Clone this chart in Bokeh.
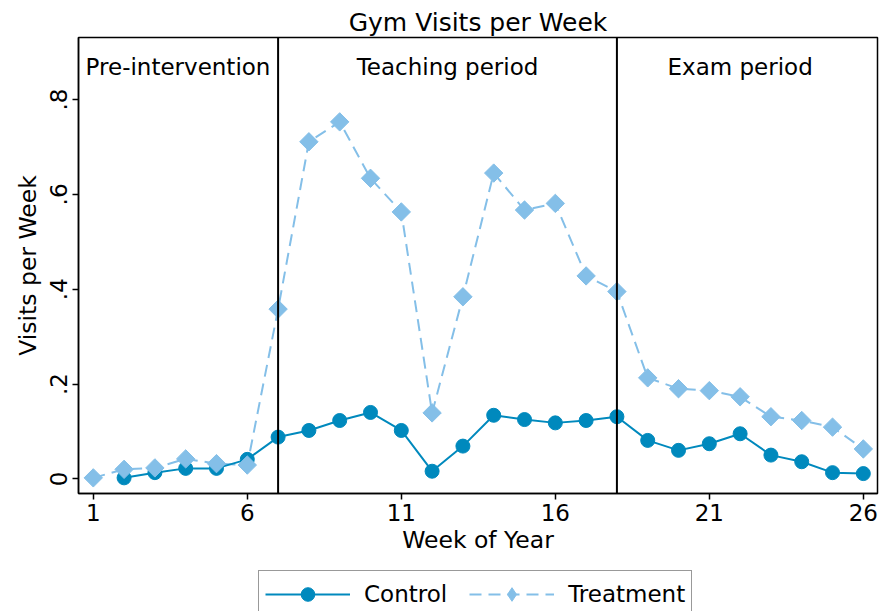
import math
from bokeh.plotting import figure
from bokeh.layouts import column
from bokeh.models import Range1d, FixedTicker, Span, Legend, LegendItem, ColumnDataSource
from bokeh.core.properties import value
from bokeh.embed import file_html
from bokeh.resources import INLINE

# ---- data ----
weeks = list(range(1, 27))
treatment = [0.002, 0.020, 0.023, 0.042, 0.032, 0.029, 0.358, 0.711, 0.753, 0.634,
             0.563, 0.139, 0.384, 0.645, 0.567, 0.581, 0.428, 0.395, 0.213, 0.190,
             0.186, 0.173, 0.131, 0.123, 0.109, 0.063]
control_weeks = list(range(2, 27))
control = [0.002, 0.013, 0.022, 0.022, 0.041, 0.088, 0.102, 0.123, 0.140, 0.102,
           0.016, 0.069, 0.134, 0.125, 0.118, 0.123, 0.131, 0.081, 0.060, 0.074,
           0.095, 0.050, 0.036, 0.013, 0.011]
phase_breaks = [7, 18]
phase_labels = ["Pre-intervention", "Teaching period", "Exam period"]
phase_centers = [3.75, 12.5, 22.0]
phase_label_y = 0.868
x_ticks = [1, 6, 11, 16, 21, 26]
y_ticks = [0, 0.2, 0.4, 0.6, 0.8]
y_tick_labels = ["0", ".2", ".4", ".6", ".8"]
series_names = ["Control", "Treatment"]

FONT = "DejaVu Sans"
C_CTRL = "#0089bd"
C_TREAT = "#84bfe8"
DASH = "12 7"

p = figure(width=880, height=556, output_backend="svg", toolbar_location=None,
           x_range=Range1d(0.52, 26.46), y_range=Range1d(-0.031, 0.931),
           min_border_left=78, min_border_right=3, min_border_bottom=10, min_border_top=37)

p.title.text = "Gym Visits per Week"
p.title.align = "center"
p.title.text_font = FONT
p.title.text_font_size = "25px"
p.title.text_font_style = "normal"
p.title.text_color = "black"
p.title.standoff = 2

p.outline_line_color = "black"
p.outline_line_width = 1.5
p.xgrid.visible = False
p.ygrid.visible = False

for ax in (p.xaxis[0], p.yaxis[0]):
    ax.axis_line_color = "black"
    ax.axis_line_width = 1.5
    ax.major_tick_line_color = "black"
    ax.major_tick_line_width = 1.5
    ax.major_tick_out = 6
    ax.major_tick_in = 0
    ax.minor_tick_line_color = None
    ax.major_label_text_font = FONT
    ax.major_label_text_font_size = "23px"
    ax.major_label_text_color = "black"
    ax.axis_label_text_font = FONT
    ax.axis_label_text_font_size = "23.5px"
    ax.axis_label_text_font_style = "normal"
    ax.axis_label_text_color = "black"

p.xaxis.ticker = FixedTicker(ticks=x_ticks)
p.xaxis.axis_label = "Week of Year"
p.xaxis.axis_label_standoff = 2
p.xaxis.major_label_standoff = 4
p.yaxis.ticker = FixedTicker(ticks=y_ticks)
p.yaxis.major_label_overrides = {t: l for t, l in zip(y_ticks, y_tick_labels)}
p.yaxis.major_label_orientation = "vertical"
p.yaxis.axis_label = "Visits per Week"
p.yaxis.axis_label_standoff = 6

for b in phase_breaks:
    p.add_layout(Span(location=b, dimension="height", line_color="black", line_width=2))

src = ColumnDataSource(dict(x=phase_centers, y=[phase_label_y] * 3, t=phase_labels))
p.text("x", "y", text="t", source=src, text_font=value(FONT), text_font_size="23px",
       text_align="center", text_baseline="middle", text_color="black")

p.line(weeks, treatment, line_color=C_TREAT, line_width=2, line_dash=DASH)
p.line(control_weeks, control, line_color=C_CTRL, line_width=2)
p.scatter(control_weeks, control, marker="circle", size=14, fill_color=C_CTRL, line_color=C_CTRL)
p.scatter(weeks, treatment, marker="square", angle=math.pi / 4, size=13,
          fill_color=C_TREAT, line_color=C_TREAT)

# ---- legend strip below (separate figure; its ranges keep the series out of view) ----
lf = figure(width=880, height=55, output_backend="svg", toolbar_location=None,
            x_range=Range1d(1000, 1001), y_range=Range1d(1000, 1001),
            min_border_left=0, min_border_right=0, min_border_top=0, min_border_bottom=0)
lf.axis.visible = False
lf.grid.visible = False
lf.outline_line_color = None
lcl = lf.line(control_weeks, control, line_color=C_CTRL, line_width=2)
lcs = lf.scatter(control_weeks, control, marker="circle", size=14, fill_color=C_CTRL, line_color=C_CTRL)
ltl = lf.line(weeks, treatment, line_color=C_TREAT, line_width=2, line_dash=DASH)
lts = lf.scatter(weeks, treatment, marker="diamond", size=14,
                 fill_color=C_TREAT, line_color=C_TREAT)

legend = Legend(items=[LegendItem(label=series_names[0], renderers=[lcl, lcs]),
                       LegendItem(label=series_names[1], renderers=[ltl, lts])],
                orientation="horizontal", location=(180, -7))
legend.label_text_font = FONT
legend.label_text_font_size = "23px"
legend.label_text_color = "black"
legend.glyph_width = 85
legend.glyph_height = 34
legend.label_standoff = 14
legend.spacing = 22
legend.padding = 6
legend.margin = 0
legend.border_line_color = "#333333"
legend.border_line_width = 1.5
legend.background_fill_color = "white"
lf.add_layout(legend)

open("out.html", "w").write(file_html(column(p, lf, spacing=0), INLINE))
